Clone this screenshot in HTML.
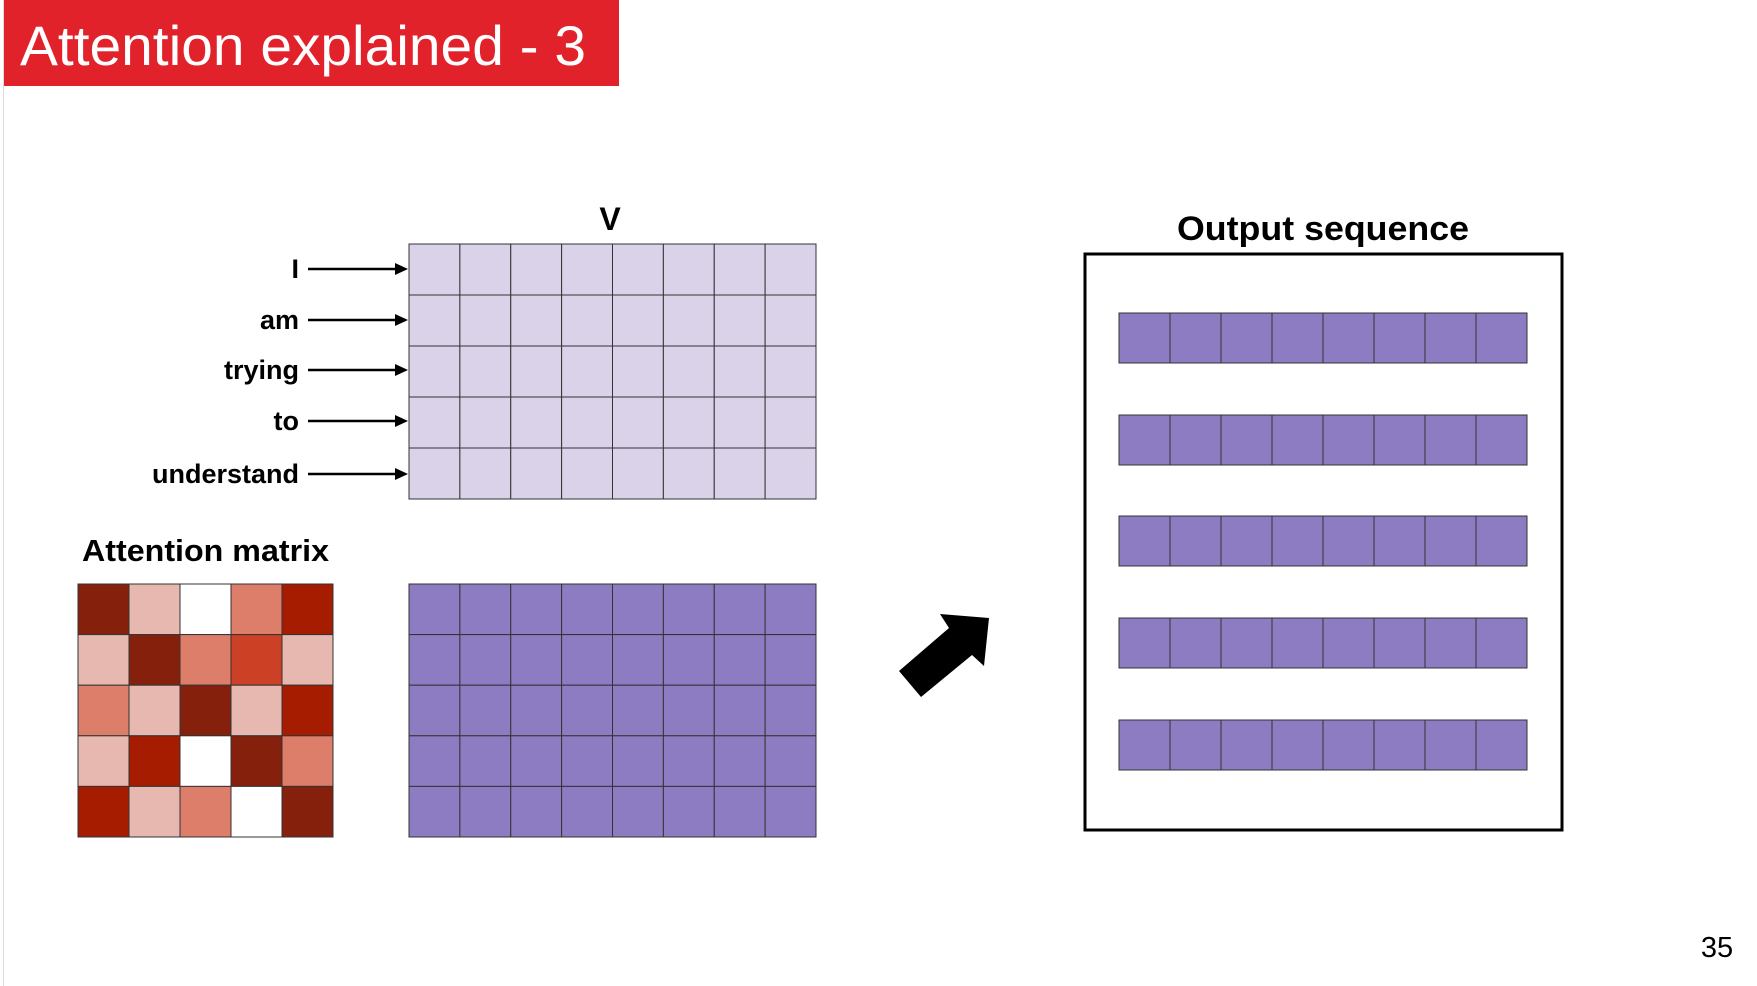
<!DOCTYPE html>
<html><head><meta charset="utf-8"><style>
html,body{margin:0;padding:0;background:#fff;}
svg{display:block;font-family:"Liberation Sans",Arial,sans-serif;}
</style></head><body>
<svg id="s" width="1757" height="986" viewBox="0 0 1757 986">
<line x1="3.5" y1="0" x2="3.5" y2="986" stroke="#ddd" stroke-width="1"/>
<rect x="4" y="0" width="615" height="86" fill="#e2222b"/>
<text x="20" y="65" font-size="56" fill="#fff" textLength="566" lengthAdjust="spacingAndGlyphs">Attention explained - 3</text>
<text x="610" y="230" font-size="32" font-weight="bold" text-anchor="middle">V</text>
<text x="82" y="561" font-size="31" font-weight="bold" textLength="247" lengthAdjust="spacingAndGlyphs">Attention matrix</text>
<text x="1323" y="240" font-size="34" font-weight="bold" text-anchor="middle" textLength="292" lengthAdjust="spacingAndGlyphs">Output sequence</text>
<rect x="1085" y="254" width="477" height="576" fill="none" stroke="#000" stroke-width="3"/>
<polygon points="899,671 949,628 940,614 989,618 984,666 972,655 921,697" fill="#000"/>
<text x="1717" y="957" font-size="29" text-anchor="middle">35</text>
<g id="g"></g>
</svg>
<script>
const words = ["I","am","trying","to","understand"];
const labelY = [269, 320, 370, 421, 474];
// attention matrix intensity levels (0=white .. 5=darkest)
const attn = [
 [5,1,0,2,4],
 [1,5,2,3,1],
 [2,1,5,1,4],
 [1,4,0,5,2],
 [4,1,2,0,5]
];
const palette = ["#ffffff","#e6b8af","#dd7e6b","#cc4125","#a61c00","#85200c"];
const NS="http://www.w3.org/2000/svg";
const g=document.getElementById('g');
function el(t,a){const e=document.createElementNS(NS,t);for(const k in a)e.setAttribute(k,a[k]);g.appendChild(e);return e;}
function grid(x0,y0,x1,y1,rows,cols,fillFn,name){
  const w=(x1-x0)/cols,h=(y1-y0)/rows;
  for(let r=0;r<rows;r++)for(let c=0;c<cols;c++){
    const e=el('rect',{x:x0+c*w,y:y0+r*h,width:w,height:h,fill:fillFn(r,c),stroke:'#333','stroke-width':1});
    
    
  }
}
grid(409,244,816,499,5,8,()=> "#d9d2e9","v-matrix");
grid(78,584,333,837,attn.length,attn[0].length,(r,c)=>palette[attn[r][c]],"attention");
grid(409,584,816,837,5,8,()=> "#8e7cc3","weighted-v");
const rowsY=[313,415,516,618,720];
rowsY.forEach(y=>grid(1119,y,1527,y+50,1,8,()=> "#8e7cc3","output-row"));
words.forEach((w,i)=>{
  const y=labelY[i];
  const t=el('text',{x:299,y:y+9,'font-size':27,'font-weight':'bold','text-anchor':'end'});
  t.textContent=w;
  
  
  const l=el('line',{x1:308,y1:y,x2:398,y2:y,stroke:'#000','stroke-width':2.5});
  
  
  const p=el('polygon',{points:`395,${y-6} 408,${y} 395,${y+6}`,fill:'#000'});
  
  
});
</script>
</body></html>
